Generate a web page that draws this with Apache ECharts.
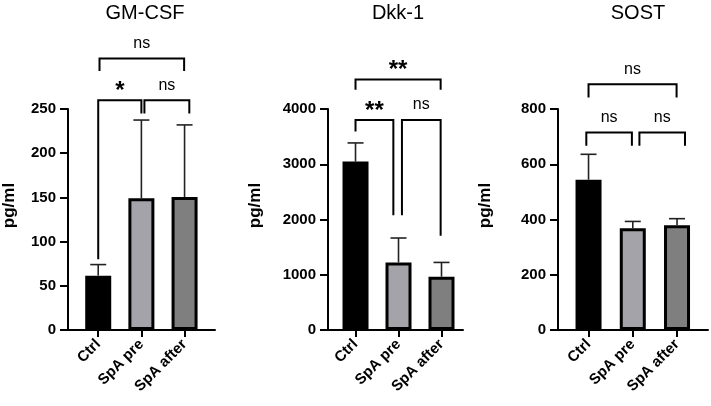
<!DOCTYPE html>
<html><head><meta charset="utf-8">
<script src="https://cdn.jsdelivr.net/npm/echarts@6/dist/echarts.min.js"></script>
<style>html,body{margin:0;padding:0;background:#fff}#c{width:711px;height:406px}</style>
</head><body><div id="c"></div>
<script>
const categories = ['Ctrl', 'SpA pre', 'SpA after'];
const titles = ['GM-CSF', 'Dkk-1', 'SOST'];
const yName = 'pg/ml';

const gmMean = [61.5, 149, 150.5];
const gmSD = [12.5, 88.5, 81.5];
const dkkMean = [3048, 1223, 965];
const dkkSD = [338, 442, 258];
const sostMean = [544, 368, 379];
const sostSD = [92, 25, 24];

const gmTicks = [0, 50, 100, 150, 200, 250];
const dkkTicks = [0, 1000, 2000, 3000, 4000];
const sostTicks = [0, 200, 400, 600, 800];

// [x start, x end, bracket level, left leg end, right leg end, label]
const gmBrackets = [[0.03, 1.99, 307, 293, 293, 'ns'], [0, 1.0, 260, 80, 245, '*'], [1.07, 2.11, 260, 245, 245, 'ns']];
const dkkBrackets = [[0, 1.98, 4535, 4350, 4350, '**'], [0, 0.88, 3803, 3594, 2076, '**'], [1.08, 1.98, 3803, 2076, 1707, 'ns']];
const sostBrackets = [[0, 1.99, 890, 842, 842, 'ns'], [-0.05, 0.98, 715, 667, 667, 'ns'], [1.15, 2.18, 715, 667, 667, 'ns']];

const barColors = ['#000000', '#a3a3a9', '#7f7f7f'];
const FONT = 'Arial, "Liberation Sans", sans-serif';

const panels = [
  {mean: gmMean, sd: gmSD, ticks: gmTicks, br: gmBrackets, left: 65, width: 150, xmin: -0.70, xmax: 2.705, nameGap: 50, titleX: 140},
  {mean: dkkMean, sd: dkkSD, ticks: dkkTicks, br: dkkBrackets, left: 328, width: 135, xmin: -0.64, xmax: 2.5, nameGap: 64, titleX: 393},
  {mean: sostMean, sd: sostSD, ticks: sostTicks, br: sostBrackets, left: 558, width: 150, xmin: -0.69, xmax: 2.70, nameGap: 64, titleX: 633}
];

const option = {animation: false, backgroundColor: '#fff', title: [], grid: [], xAxis: [], yAxis: [], series: []};

panels.forEach((p, k) => {
  option.title.push({text: titles[k], left: p.titleX, top: -2, textAlign: 'center',
    textStyle: {fontSize: 20, fontWeight: 'normal', fontFamily: FONT, color: '#000'}});
  option.grid.push({left: p.left, width: p.width, top: 109, height: 221, containLabel: false});
  option.xAxis.push({type: 'value', gridIndex: k, min: p.xmin, max: p.xmax,
    splitLine: {show: false},
    axisLine: {show: true, onZero: false, lineStyle: {color: '#000', width: 2}},
    axisTick: {show: true, length: 7, lineStyle: {color: '#000', width: 2}, customValues: [0, 1, 2]},
    axisLabel: {customValues: [0, 1, 2], rotate: 45, margin: 12, fontSize: 15, fontWeight: 'bold', fontFamily: FONT, color: '#000',
      formatter: v => categories[Math.round(v)]}
  });
  const t = p.ticks;
  option.yAxis.push({type: 'value', gridIndex: k, min: t[0], max: t[t.length - 1], interval: t[1] - t[0],
    splitLine: {show: false},
    axisLine: {show: true, onZero: false, lineStyle: {color: '#000', width: 2}},
    axisTick: {show: true, length: 8, lineStyle: {color: '#000', width: 2}},
    axisLabel: {fontSize: 15, fontWeight: 'bold', fontFamily: FONT, color: '#000', margin: 12, formatter: v => String(v)},
    name: yName, nameLocation: 'middle', nameGap: p.nameGap, nameRotate: 90,
    nameTextStyle: {fontSize: 17, fontWeight: 'bold', fontFamily: FONT, color: '#000', padding: [0, 0, 0, 28]}
  });
  option.series.push({type: 'bar', xAxisIndex: k, yAxisIndex: k, barWidth: 26, z: 2,
    data: p.mean.map((m, i) => ({value: [i, m], itemStyle: {color: barColors[i], borderColor: '#000', borderWidth: 3}}))
  });
  option.series.push({type: 'custom', xAxisIndex: k, yAxisIndex: k, z: 3, clip: false,
    data: p.mean.map((m, i) => [i, m, m + p.sd[i]]),
    renderItem: (params, api) => {
      const a = api.coord([api.value(0), api.value(1)]);
      const b = api.coord([api.value(0), api.value(2)]);
      const st = {stroke: '#222', lineWidth: 1.6};
      return {type: 'group', children: [
        {type: 'line', shape: {x1: a[0], y1: a[1], x2: b[0], y2: b[1]}, style: st},
        {type: 'line', shape: {x1: b[0] - 8, y1: b[1], x2: b[0] + 8, y2: b[1]}, style: st}
      ]};
    }
  });
  option.series.push({type: 'custom', xAxisIndex: k, yAxisIndex: k, z: 4, clip: false,
    data: p.br.map(r => [r[0], r[1], r[2], r[3], r[4]]),
    renderItem: (params, api) => {
      const r = p.br[params.dataIndex];
      const pA = api.coord([api.value(0), api.value(3)]);
      const pB = api.coord([api.value(0), api.value(2)]);
      const pC = api.coord([api.value(1), api.value(2)]);
      const pD = api.coord([api.value(1), api.value(4)]);
      const lbl = r[5];
      const isStar = lbl.indexOf('*') >= 0;
      const cx = (pB[0] + pC[0]) / 2;
      const cy = pB[1] - 14 + (isStar ? 5 : -1);
      return {type: 'group', children: [
        {type: 'polyline', shape: {points: [pA, pB, pC, pD]}, style: {stroke: '#000', lineWidth: 2, fill: null}},
        {type: 'text', x: cx, y: cy, style: {text: lbl, align: 'center', verticalAlign: 'middle',
          fontSize: isStar ? 24 : 16, fontWeight: isStar ? 'bold' : 'normal', fontFamily: FONT, fill: '#000'}}
      ]};
    }
  });
});

const chart = echarts.init(document.getElementById('c'), null, {renderer: 'canvas'});
chart.setOption(option);
</script>
</body></html>
